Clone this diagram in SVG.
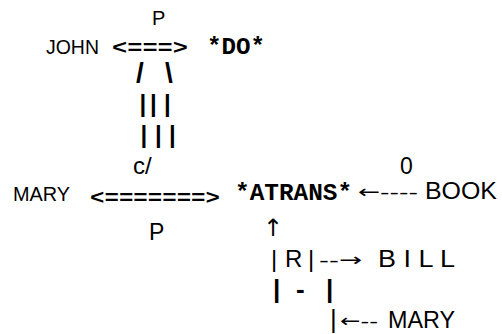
<svg xmlns="http://www.w3.org/2000/svg" width="502" height="334" viewBox="0 0 502 334">
<style>
.s{font-family:"Liberation Sans",Arial,sans-serif;fill:#000}
.m{font-family:"Liberation Mono","DejaVu Sans Mono",monospace;font-weight:bold;fill:#000}
.a{font-family:"DejaVu Sans","Liberation Sans",sans-serif;fill:#000}
.b{font-family:"Liberation Sans",Arial,sans-serif;font-weight:bold;fill:#000}
</style>
<rect width="502" height="334" fill="#fff"/>
<g id="john"><text class="s" x="46" y="54" font-size="20" textLength="53" lengthAdjust="spacingAndGlyphs">JOHN</text></g>
<g id="do"><text class="m" x="207" y="54" font-size="24" textLength="58" lengthAdjust="spacingAndGlyphs">*DO*</text></g>
<g id="mary"><text class="s" x="13" y="201" font-size="21" textLength="57" lengthAdjust="spacingAndGlyphs">MARY</text></g>
<g id="atrans"><text class="m" x="235" y="200" font-size="24" textLength="117" lengthAdjust="spacingAndGlyphs">*ATRANS*</text></g>
<g id="book"><text class="s" x="425" y="199" font-size="24" textLength="72" lengthAdjust="spacingAndGlyphs">BOOK</text></g>
<g id="bill"><text class="s" x="378" y="267" font-size="23" textLength="77" lengthAdjust="spacingAndGlyphs">B I L L</text></g>
<g id="mary2"><text class="s" x="388" y="328" font-size="24" textLength="67" lengthAdjust="spacingAndGlyphs">MARY</text></g>
<g id="labels">
<text class="s" x="152" y="25" font-size="20">P</text>
<text class="s" x="400" y="174" font-size="23">0</text>
<text class="s" x="149" y="240" font-size="23">P</text>
</g>
<g id="connectors">
<text class="m" x="112" y="54" font-size="20" textLength="76" lengthAdjust="spacingAndGlyphs">&lt;===&gt;</text>
<text class="b" x="136" y="82" font-size="28">/</text>
<text class="b" x="165" y="82" font-size="28">\</text>
<text class="b" x="139.5 150 164" y="112" font-size="24">|||</text>
<text class="b" x="140.5 155 169" y="143" font-size="24">|||</text>
<text class="s" x="133" y="174" font-size="24">c/</text>
<text class="m" x="90" y="204" font-size="20" textLength="130" lengthAdjust="spacingAndGlyphs">&lt;=======&gt;</text>
<text class="a" x="358" y="198" font-size="18" textLength="60" lengthAdjust="spacingAndGlyphs">←----</text>
<text class="a" x="263" y="236" font-size="24">↑</text>
<text class="s" x="271" y="267" font-size="24">|</text>
<text class="s" x="285" y="267" font-size="24">R</text>
<text class="s" x="308" y="267" font-size="24">|</text>
<text class="a" x="319" y="266" font-size="18" textLength="43" lengthAdjust="spacingAndGlyphs">--→</text>
<text class="b" x="273" y="298" font-size="26">|</text>
<text class="b" x="296" y="298" font-size="26">-</text>
<text class="b" x="326" y="298" font-size="26">|</text>
<text class="s" x="330" y="328" font-size="26">|</text>
<text class="a" x="340" y="327" font-size="18" textLength="38" lengthAdjust="spacingAndGlyphs">←--</text>
</g>
</svg>
